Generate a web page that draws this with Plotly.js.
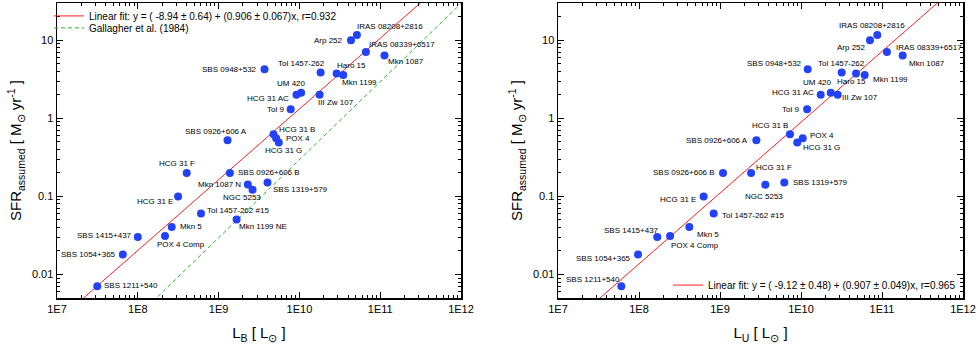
<!DOCTYPE html>
<html>
<head>
<meta charset="utf-8">
<script src="https://cdn.plot.ly/plotly-3.0.1.min.js"></script>
<style>
  html, body { margin: 0; padding: 0; background: #fff; }
  #chart { width: 977px; height: 345px; }
</style>
</head>
<body>
<div id="chart"></div>
<script>
// left panel: SFR vs L_B
const namesB = [
  "IRAS 08208+2816", "Arp 252", "IRAS 08339+6517", "Mkn 1087", "SBS 0948+532",
  "Tol 1457-262", "Haro 15", "Mkn 1199", "UM 420", "HCG 31 AC", "III Zw 107", "Tol 9",
  "HCG 31 B", "POX 4", "HCG 31 G", "SBS 0926+606 A", "HCG 31 F", "SBS 0926+606 B",
  "Mkn 1087 N", "NGC 5253", "SBS 1319+579", "HCG 31 E", "Tol 1457-262 #15",
  "Mkn 1199 NE", "Mkn 5", "SBS 1415+437", "POX 4 Comp", "SBS 1054+365", "SBS 1211+540"
];
const lumB = [
  5.15e10, 4.35e10, 6.65e10, 1.13e11, 3.70e9,
  1.83e10, 2.89e10, 3.49e10, 1.05e10, 9.2e9, 1.78e10, 7.8e9,
  4.78e9, 5.15e9, 5.56e9, 1.29e9, 4.03e8, 1.38e9,
  2.30e9, 2.63e9, 4.03e9, 3.15e8, 6.05e8,
  1.67e9, 2.63e8, 1.0e8, 2.17e8, 6.53e7, 3.15e7
];
const sfrB = [
  11.7, 10.0, 7.05, 6.4, 4.25,
  3.85, 3.74, 3.6, 2.13, 2.0, 2.0, 1.31,
  0.625, 0.556, 0.49, 0.525, 0.2, 0.2,
  0.142, 0.122, 0.151, 0.1, 0.0605,
  0.0508, 0.0406, 0.0303, 0.0312, 0.0181, 0.00705
];

// right panel: SFR vs L_U
const namesU = [
  "IRAS 08208+2816", "Arp 252", "IRAS 08339+6517", "Mkn 1087", "SBS 0948+532",
  "Tol 1457-262", "Haro 15", "Mkn 1199", "UM 420", "HCG 31 AC", "III Zw 107", "Tol 9",
  "HCG 31 B", "POX 4", "HCG 31 G", "SBS 0926+606 A", "HCG 31 F", "SBS 0926+606 B",
  "NGC 5253", "SBS 1319+579", "HCG 31 E", "Tol 1457-262 #15", "Mkn 5",
  "SBS 1415+437", "POX 4 Comp", "SBS 1054+365", "SBS 1211+540"
];
const lumU = [
  8.75e10, 7.11e10, 1.15e11, 1.80e11, 1.21e10,
  3.18e10, 4.78e10, 6.11e10, 2.33e10, 1.75e10, 2.84e10, 1.19e10,
  7.31e9, 1.05e10, 8.99e9, 2.81e9, 2.42e9, 1.09e9,
  3.63e9, 6.22e9, 6.28e8, 8.36e8, 4.18e8,
  1.68e8, 2.42e8, 9.73e7, 6.05e7
];
const sfrU = [
  11.7, 10.0, 7.05, 6.4, 4.25,
  3.85, 3.74, 3.6, 2.13, 2.0, 2.0, 1.31,
  0.625, 0.556, 0.49, 0.525, 0.2, 0.2,
  0.141, 0.151, 0.1, 0.0605, 0.0406,
  0.0303, 0.0312, 0.0181, 0.00705
];

// log-log fits: log SFR = a + b log L
const fitB = [-8.94, 0.906];
const fitU = [-9.12, 0.907];
const gallagher = [-10.53, 1.0];

const xTicks = [1e7, 1e8, 1e9, 1e10, 1e11, 1e12];
const xTickText = ["1E7", "1E8", "1E9", "1E10", "1E11", "1E12"];
const yTicks = [0.01, 0.1, 1, 10];
const yTickText = ["0.01", "0.1", "1", "10"];

// label placement: [anchor, xshift, yshift] in px
const placeB = [
  ["left", -2, 8], ["right", -6, 0], ["left", 1, 8], ["left", 2, -6], ["right", -6, 0],
  ["center", -19, 9], ["left", -2, 8], ["left", -3, -8], ["center", -10, 9], ["right", -5, -4],
  ["left", -4, -8], ["right", -5, 0], ["left", 3, 5], ["left", 8, 0], ["left", -16, -8],
  ["center", -12, 9], ["center", -10, 9], ["left", 6, 0], ["right", -5, 0], ["center", -11, -8],
  ["left", 3, -7], ["right", -3, -5], ["left", 4, 3], ["left", 0, -7], ["left", 6, 0],
  ["right", -4, 1], ["left", -10, -9], ["right", -5, 0], ["left", 5, 1]
];
const placeU = [
  ["center", -5, 9], ["right", -2, -7], ["left", 7, 5], ["left", 4, -8], ["right", -4, 6],
  ["center", 0, 9], ["left", -21, -8], ["left", 6, -5], ["center", -13, 10], ["right", -5, 2],
  ["left", 2, -3], ["right", -6, 0], ["center", -20, 9], ["left", 5, 3], ["left", 4, -5],
  ["right", -6, 0], ["left", 3, 5], ["right", -6, 0], ["center", -1, -12], ["left", 7, 0],
  ["right", -6, -3], ["left", 6, -2], ["left", 6, -8], ["center", -26, 6], ["left", -1, -10],
  ["right", -5, -4], ["center", -28, 7]
];

const FONT = "Arial, 'Liberation Sans', sans-serif";
const BLUE = "rgb(35,65,245)";

function fitLine(coef, xref, yref, style, name, legend) {
  const lx = [7, 12];
  return {
    x: lx.map((v) => Math.pow(10, v)),
    y: lx.map((v) => Math.pow(10, coef[0] + coef[1] * v)),
    xaxis: xref, yaxis: yref,
    mode: "lines", line: style, name: name, legend: legend,
    hoverinfo: "skip"
  };
}

function pointLabels(names, lum, sfr, place, xref, yref) {
  return names.map((n, i) => ({
    x: Math.log10(lum[i]), y: Math.log10(sfr[i]),
    xref: xref, yref: yref, text: n, showarrow: false,
    xanchor: place[i][0], yanchor: "middle",
    xshift: place[i][1], yshift: place[i][2],
    font: { family: FONT, size: 8, color: "#000" }
  }));
}

function minorVals(lo, hi) {
  const out = [];
  for (let e = lo; e < hi; e++) {
    for (let m = 2; m <= 9; m++) out.push(m * Math.pow(10, e));
  }
  return out;
}

const data = [
  fitLine(fitB, "x", "y", { color: "#ff2020", width: 1 },
    "Linear fit: y = ( -8.94 ± 0.64) + (0.906 ± 0.067)x, r=0.932", "legend"),
  fitLine(gallagher, "x", "y", { color: "#2ab52a", width: 1, dash: "4px,3px" },
    "Gallagher et al. (1984)", "legend3"),
  {
    x: lumB, y: sfrB, text: namesB, xaxis: "x", yaxis: "y",
    mode: "markers", marker: { color: BLUE, size: 8 },
    showlegend: false, hovertemplate: "%{text}<extra></extra>"
  },
  fitLine(fitU, "x2", "y2", { color: "#ff2020", width: 1 },
    "Linear fit: y = ( -9.12 ± 0.48) + (0.907 ± 0.049)x, r=0.965", "legend2"),
  {
    x: lumU, y: sfrU, text: namesU, xaxis: "x2", yaxis: "y2",
    mode: "markers", marker: { color: BLUE, size: 8 },
    showlegend: false, hovertemplate: "%{text}<extra></extra>"
  }
];

function xAxis(domain, sub, anchor) {
  return {
    domain: domain, anchor: anchor, type: "log", range: [7, 12],
    tickmode: "array", tickvals: xTicks, ticktext: xTickText,
    ticks: "inside", ticklen: 6, tickwidth: 1, tickcolor: "#000",
    minor: { tickmode: "array", tickvals: minorVals(7, 12), ticks: "inside", ticklen: 3, tickcolor: "#000", showgrid: false },
    showline: true, linecolor: "#000", linewidth: 1.5, mirror: "ticks",
    showgrid: false, zeroline: false,
    tickfont: { family: FONT, size: 11, color: "#000" },
    title: { text: "L<sub>" + sub + "</sub> [ L<sub>⊙</sub> ]", font: { family: FONT, size: 15, color: "#000" }, standoff: 14 }
  };
}

function yAxis(anchor) {
  return {
    anchor: anchor, type: "log", range: [Math.log10(0.005), Math.log10(30)],
    tickmode: "array", tickvals: yTicks, ticktext: yTickText,
    ticks: "inside", ticklen: 6, tickwidth: 1, tickcolor: "#000",
    minor: { tickmode: "array", tickvals: minorVals(-3, 2).filter((v) => v >= 0.005 && v <= 30), ticks: "inside", ticklen: 3, tickcolor: "#000", showgrid: false },
    showline: true, linecolor: "#000", linewidth: 1.5, mirror: "ticks",
    showgrid: false, zeroline: false,
    tickfont: { family: FONT, size: 11, color: "#000" },
    title: { text: "SFR<sub>assumed</sub> [ M<sub>⊙</sub> yr<sup>-1</sup> ]", font: { family: FONT, size: 15, color: "#000" }, standoff: 6 }
  };
}

const legendBase = {
  bgcolor: "rgba(0,0,0,0)", borderwidth: 0,
  font: { family: FONT, size: 10, color: "#000" },
  xanchor: "left", yanchor: "middle"
};

const layout = {
  width: 977, height: 345,
  margin: { l: 57, r: 14, t: 1, b: 47 },
  paper_bgcolor: "#fff", plot_bgcolor: "#fff",
  font: { family: FONT, color: "#000" },
  xaxis: xAxis([0, 404 / 906], "B", "y"),
  yaxis: yAxis("x"),
  xaxis2: xAxis([501 / 906, 1], "U", "y2"),
  yaxis2: yAxis("x2"),
  legend: Object.assign({}, legendBase, { x: -8 / 906, y: 1 - 13 / 297 }),
  legend3: Object.assign({}, legendBase, { x: -8 / 906, y: 1 - 25 / 297 }),
  legend2: Object.assign({}, legendBase, { x: 611 / 906, y: 13 / 297 }),
  annotations: [].concat(
    pointLabels(namesB, lumB, sfrB, placeB, "x", "y"),
    pointLabels(namesU, lumU, sfrU, placeU, "x2", "y2")
  ),
  showlegend: true
};

Plotly.newPlot("chart", data, layout, { staticPlot: true, displayModeBar: false });
</script>
</body>
</html>
